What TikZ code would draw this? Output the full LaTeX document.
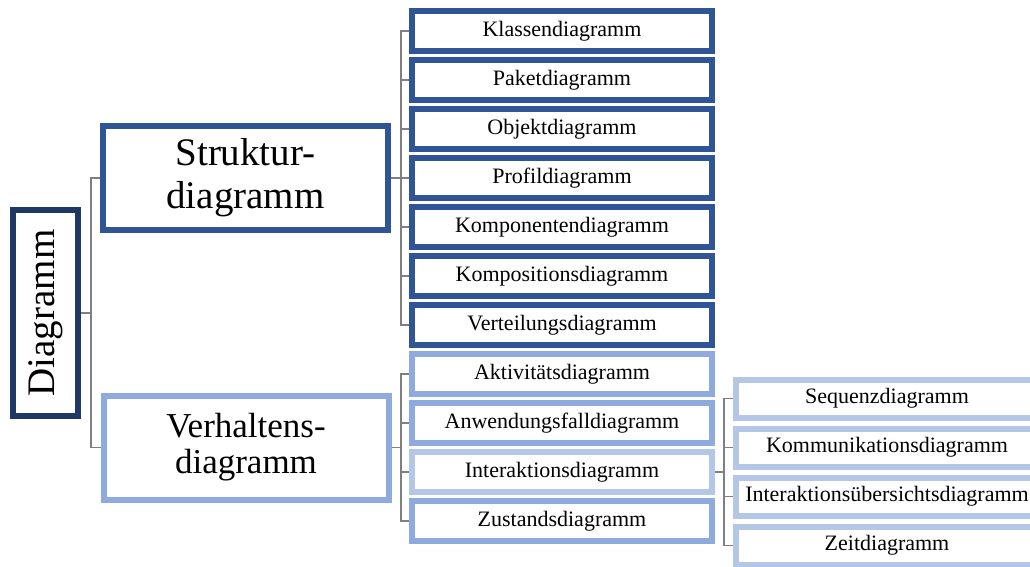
\documentclass[tikz,border=0pt]{standalone}
\usepackage{fontspec}
\setmainfont{Liberation Serif}
\usetikzlibrary{positioning, backgrounds}

\definecolor{navy}{HTML}{203864}
\definecolor{strukblue}{HTML}{2F5597}
\definecolor{verhblue}{HTML}{8FAADC}
\definecolor{interblue}{HTML}{B4C7E7}
\definecolor{linegray}{HTML}{7F7F7F}

\begin{document}
\begin{tikzpicture}[x=1pt, y=-1pt, node distance=9pt]
    \tikzstyle{box}=[rectangle, draw, fill=white, line width=6pt, inner sep=0, outer sep=0, align=center]
    \tikzstyle{big}=[box, minimum width=285pt, minimum height=104pt]
    \tikzstyle{item}=[box, draw=strukblue, minimum width=300pt, minimum height=40pt, font=\fontsize{22}{24}\selectfont]
    \tikzstyle{sub}=[box, draw=interblue, minimum width=302pt, minimum height=38pt, font=\fontsize{22}{24}\selectfont]
    \tikzstyle{conn}=[draw=linegray, line width=1.3pt]

    \useasboundingbox (0,0) rectangle (1030,567);
    \clip (0,0) rectangle (1030,567);

    \node[box, draw=navy, line width=6.5pt, minimum width=65pt, minimum height=206pt, font=\fontsize{39}{42}\selectfont] (diag) at (45.5,313) {\rotatebox{90}{Diagramm}};
    \node[big, draw=strukblue, font=\fontsize{39}{43}\selectfont] (struk) at (245.5,178) {Struktur-\\diagramm};
    \node[big, draw=verhblue, font=\fontsize{35}{36}\selectfont] (verh) at (246,447.5) {Verhaltens-\\diagramm};

    \node[item] (klasse) at (562,31) {Klassendiagramm};
    \node[item, below=of klasse] (paket) {Paketdiagramm};
    \node[item, below=of paket] (objekt) {Objektdiagramm};
    \node[item, below=of objekt] (profil) {Profildiagramm};
    \node[item, below=of profil] (kompon) {Komponentendiagramm};
    \node[item, below=of kompon] (kompos) {Kompositionsdiagramm};
    \node[item, below=of kompos] (verteil) {Verteilungsdiagramm};

    \node[item, draw=verhblue, below=of verteil] (aktiv) {Aktivitätsdiagramm};
    \node[item, draw=verhblue, below=of aktiv] (anwend) {Anwendungsfalldiagramm};
    \node[item, draw=interblue, below=of anwend] (inter) {Interaktionsdiagramm};
    \node[item, draw=verhblue, below=of inter] (zustand) {Zustandsdiagramm};

    \node[sub] (sequenz) at (887,398.5) {Sequenzdiagramm};
    \node[sub, below=11pt of sequenz] (kommu) {Kommunikationsdiagramm};
    \node[sub, below=11pt of kommu] (ueber) {Interaktionsübersichtsdiagramm};
    \node[sub, below=11pt of ueber] (zeit) {Zeitdiagramm};

    \begin{scope}[on background layer]
        \draw[conn] (diag.east) -- ++(13,0) |- (struk.west);
        \draw[conn] (diag.east) -- ++(13,0) |- (verh.west);
        \foreach \n in {klasse, paket, objekt, profil, kompon, kompos, verteil}
            \draw[conn] (struk.east) -- ++(13,0) |- (\n.west);
        \foreach \n in {aktiv, anwend, inter, zustand}
            \draw[conn] (verh.east) -- ++(12.5,0) |- (\n.west);
        \foreach \n in {sequenz, kommu, ueber, zeit}
            \draw[conn] (inter.east) -- ++(12,0) |- (\n.west);
    \end{scope}
\end{tikzpicture}
\end{document}
